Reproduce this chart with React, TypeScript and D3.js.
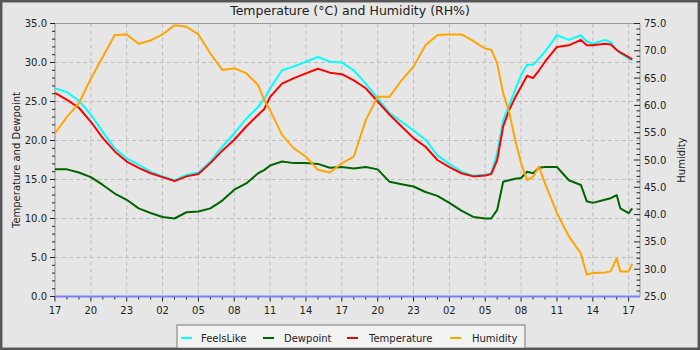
import React from "react";
import * as d3 from "d3";

const hours = [0,1,2,3,4,5,6,7,8,9,10,11,12,13,14,15,16,17,17.5,18,19,20,21,22,23,24,25,26,27,28,29,30,31,32,33,34,35,36,36.5,37,37.5,38,38.5,39,39.5,40,40.5,41,42,43,44,44.5,45,46,46.5,47,47.3,48,48.3];

const temperature = [26.1,25.2,24.2,22.4,20.3,18.6,17.3,16.5,15.8,15.3,14.8,15.4,15.7,17.1,18.7,20.1,21.8,23.3,24.0,25.6,27.3,28.0,28.6,29.2,28.7,28.5,27.7,26.7,25.0,23.3,21.8,20.3,19.2,17.5,16.6,15.8,15.4,15.5,15.7,17.5,21.8,23.9,25.5,26.9,28.3,28.0,29.0,30.1,32.0,32.2,32.9,32.2,32.2,32.4,32.3,31.6,31.3,30.7,30.4];

const feelsLike = [26.7,26.2,25.1,23.3,21.1,19.0,17.7,16.9,16.0,15.4,14.9,15.6,15.9,17.3,19.2,20.9,22.8,24.3,25.3,26.7,29.0,29.5,30.1,30.7,30.1,30.0,29.0,27.3,25.4,23.5,22.4,21.3,20.1,18.1,17.0,16.0,15.5,15.6,15.8,18.4,22.6,24.5,26.5,28.4,29.7,29.7,30.5,31.4,33.5,32.9,33.5,32.7,32.4,32.9,32.6,31.6,31.2,30.5,30.3];

const dewpoint = [16.3,16.3,15.9,15.3,14.3,13.2,12.4,11.3,10.7,10.2,10.0,10.8,10.9,11.3,12.3,13.7,14.5,15.8,16.2,16.8,17.3,17.1,17.1,17.0,16.5,16.6,16.4,16.6,16.3,14.7,14.4,14.1,13.4,12.9,12.0,11.0,10.2,10.0,10.0,11.1,14.7,14.9,15.1,15.2,16.0,15.8,16.5,16.6,16.6,14.9,14.3,12.2,12.0,12.4,12.6,13.0,11.3,10.7,11.3];

const humidity = [54.9,57.9,60.4,64.9,68.9,72.9,73.0,71.3,71.9,73.0,74.7,74.4,73.0,69.5,66.5,66.8,65.9,63.7,61.0,59.1,54.6,52.1,50.6,48.2,47.7,49.4,50.6,57.3,61.6,61.6,64.6,67.1,71.0,72.9,73.0,73.0,71.8,70.4,70.2,67.7,62.2,58.8,53.7,49.4,46.3,46.9,48.8,45.7,40.3,36.0,32.9,29.0,29.3,29.4,29.6,32.0,29.6,29.6,31.0];

const rain = [0, 0];
const rainHours = [0, 48.95];

const xTickHours = d3.range(0, 49, 3);
const startHour = 17;
const leftTicks = d3.range(0, 36, 5);
const rightTicks = d3.range(25, 76, 5);

const series = [
  { name: "FeelsLike", color: "#00ffff", values: feelsLike, axis: "left" },
  { name: "Dewpoint", color: "#006400", values: dewpoint, axis: "left" },
  { name: "Temperature", color: "#ff0000", values: temperature, axis: "left" },
  { name: "Humidity", color: "#ffa500", values: humidity, axis: "right" },
];

const W = 700, H = 350;
const L = 55, R = 640, T = 23.5, B = 296.5;
const font = "DejaVu Sans, sans-serif";

export default function App() {
  const x = d3.scaleLinear().domain([0, 48.95]).range([L, R]);
  const yL = d3.scaleLinear().domain([0, 35]).range([B, T]);
  const yR = d3.scaleLinear().domain([25, 75]).range([B, T]);

  const lineFor = (vals: number[], y: d3.ScaleLinear<number, number>) =>
    d3.line<number>().x((_, i) => x(hours[i])).y((v) => y(v))(vals) || "";

  const minorX = d3.range(0, 49, 1);
  const minorL = d3.range(0, 35.01, 1);
  const minorR = d3.range(25, 75.01, 1);

  const legendItems = [
    { sx: 181, tx: 201 },
    { sx: 263, tx: 284 },
    { sx: 347, tx: 369 },
    { sx: 450, tx: 472 },
  ];

  return (
    <svg width={W} height={H} style={{ position: "absolute", left: 0, top: 0 }} fontFamily={font}>
      <rect x={0} y={0} width={W} height={H} fill="#e6e6e6" />
      <rect x={1} y={1} width={W - 2} height={H - 2} fill="none" stroke="#555555" strokeWidth={2.5} />
      <text x={350} y={15} textAnchor="middle" fontSize={12.5} fill="#222">
        Temperature (°C) and Humidity (RH%)
      </text>

      {/* grid */}
      {xTickHours.map((h) => (
        <line key={"gx" + h} x1={x(h)} x2={x(h)} y1={T} y2={B} stroke="#bdbdbd" strokeDasharray="4,3" />
      ))}
      {leftTicks.map((v) => (
        <line key={"gy" + v} x1={L} x2={R} y1={yL(v)} y2={yL(v)} stroke="#bdbdbd" strokeDasharray="4,3" />
      ))}

      {/* frame */}
      <line x1={L} x2={R} y1={T} y2={T} stroke="#999" />
      <line x1={L} x2={L} y1={T} y2={B} stroke="#999" />
      <line x1={R} x2={R} y1={T} y2={B} stroke="#999" />

      {/* left axis */}
      {minorL.map((v) => (
        <line key={"ml" + v} x1={v % 5 === 0 ? L - 5 : L - 3} x2={L} y1={yL(v)} y2={yL(v)} stroke="#222" />
      ))}
      {leftTicks.map((v) => (
        <text key={"tl" + v} x={47} y={yL(v) + 3.5} textAnchor="end" fontSize={10} fill="#222">
          {v.toFixed(1)}
        </text>
      ))}
      {/* right axis */}
      {minorR.map((v) => (
        <line key={"mr" + v} x1={R} x2={v % 5 === 0 ? R - 6 : R - 3.5} y1={yR(v)} y2={yR(v)} stroke="#222" />
      ))}
      {rightTicks.map((v) => (
        <text key={"tr" + v} x={644} y={yR(v) + 3.5} textAnchor="start" fontSize={10} fill="#222">
          {v.toFixed(1)}
        </text>
      ))}
      {/* x axis */}
      {minorX.map((h) => (
        <line key={"mx" + h} x1={x(h)} x2={x(h)} y1={B} y2={h % 3 === 0 ? B + 5 : B + 3} stroke="#222" />
      ))}
      {xTickHours.map((h) => (
        <text key={"tx" + h} x={x(h)} y={314} textAnchor="middle" fontSize={10} fill="#222">
          {String((startHour + h) % 24).padStart(2, "0")}
        </text>
      ))}

      <text transform={`translate(20,${(T + B) / 2}) rotate(-90)`} textAnchor="middle" fontSize={10} fill="#222">
        Temperature and Dewpoint
      </text>
      <text transform={`translate(685,${(T + B) / 2}) rotate(-90)`} textAnchor="middle" fontSize={10} fill="#222">
        Humidity
      </text>

      {/* series */}
      {series.map((s) => (
        <path
          key={s.name}
          d={lineFor(s.values, s.axis === "left" ? yL : yR)}
          fill="none"
          stroke={s.color}
          strokeWidth={2}
          strokeLinejoin="round"
        />
      ))}
      <path
        d={d3.line<number>().x((_, i) => x(rainHours[i])).y((v) => yL(v))(rain) || ""}
        stroke="#7f7ff5"
        strokeWidth={2}
        fill="none"
      />

      {/* legend */}
      <rect x={177} y={325} width={348} height={26} fill="#f2f2f2" stroke="#7a7a7a" />
      {series.map((s, i) => (
        <g key={"lg" + s.name}>
          <line x1={legendItems[i].sx} x2={legendItems[i].sx + 11} y1={338} y2={338} stroke={s.color} strokeWidth={2} />
          <text x={legendItems[i].tx} y={341.5} fontSize={10} fill="#222">
            {s.name}
          </text>
        </g>
      ))}
      <rect x={1} y={1} width={W - 2} height={H - 2} fill="none" stroke="#555555" strokeWidth={2.5} />
    </svg>
  );
}
